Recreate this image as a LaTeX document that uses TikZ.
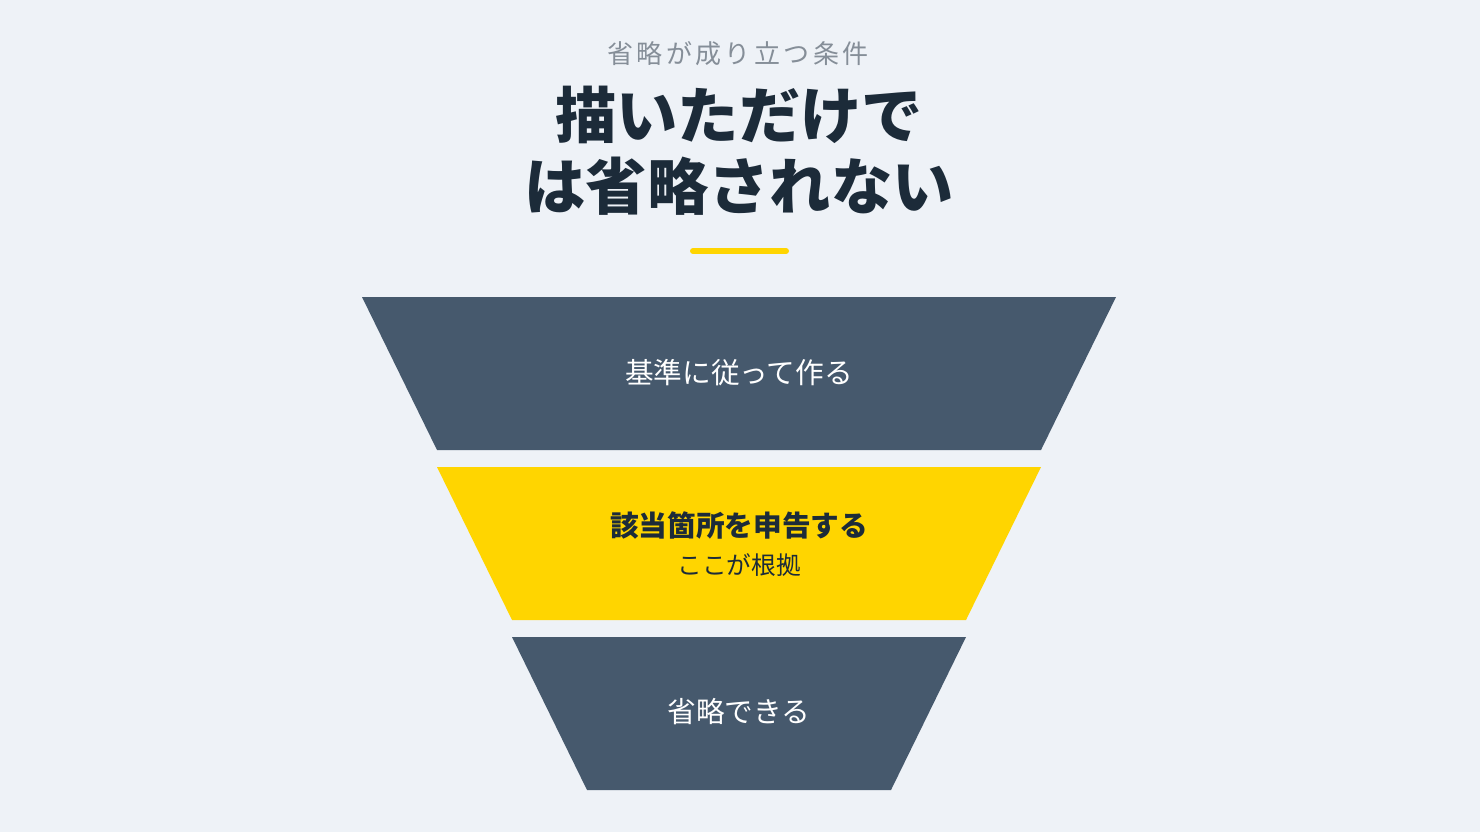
\documentclass[tikz,border=0pt]{standalone}
\usepackage{fontspec}
\newfontfamily\jpfont{Noto Sans CJK JP}
\newfontfamily\jpsubfont[LetterSpace=13]{Noto Sans CJK JP}
\definecolor{pagebg}{HTML}{EEF2F7}
\definecolor{slate}{HTML}{46596D}
\definecolor{accent}{HTML}{FFD500}
\definecolor{ink}{HTML}{1C2B39}
\definecolor{subgray}{HTML}{858E98}

\tikzset{every picture/.style={line width=0.75pt}}
\def \fCx {739}
\def \fTop {297}
\def \fHalf {377}
\def \fShift {75}
\def \fHeight {153}
\def \fStep {170}

\begin{document}
\begin{tikzpicture}[x=0.75pt,y=0.75pt,yscale=-1,xscale=1]

	%Shape: Background
	\fill [pagebg] (0,0) rectangle (1480,832);
	\useasboundingbox (0,0) rectangle (1480,832);

	%Shape: Trapezoid [top level]
	\draw [draw=none, fill=slate] (\fCx-\fHalf,\fTop) -- (\fCx+\fHalf,\fTop) -- (\fCx+\fHalf-\fShift,\fTop+\fHeight) -- (\fCx-\fHalf+\fShift,\fTop+\fHeight) -- cycle ;
	%Shape: Trapezoid [middle level]
	\draw [draw=none, fill=accent] (\fCx-\fHalf+\fShift,\fTop+\fStep) -- (\fCx+\fHalf-\fShift,\fTop+\fStep) -- (\fCx+\fHalf-\fShift*2,\fTop+\fStep+\fHeight) -- (\fCx-\fHalf+\fShift*2,\fTop+\fStep+\fHeight) -- cycle ;
	%Shape: Trapezoid [bottom level]
	\draw [draw=none, fill=slate] (\fCx-\fHalf+\fShift*2,\fTop+\fStep*2) -- (\fCx+\fHalf-\fShift*2,\fTop+\fStep*2) -- (\fCx+\fHalf-\fShift*3,\fTop+\fStep*2+\fHeight) -- (\fCx-\fHalf+\fShift*3,\fTop+\fStep*2+\fHeight) -- cycle ;

	%Shape: Line [underline]
	\draw [accent, line width=4.5pt, line cap=round] (693,251) -- (786,251) ;

	% Text Node
	\draw (\fCx-1,54) node (subtitle) [inner sep=0.75pt] [font={\jpsubfont\fontsize{19.5}{23}\selectfont}, color=subgray] {省略が成り立つ条件};
	% Text Node
	\draw (\fCx,151) node (title) [inner sep=0.75pt] [font={\jpfont\bfseries\fontsize{46}{53.25}\selectfont}, color=ink] [align=center] {描いただけで\\は省略されない};

	% Text Node
	\draw (\fCx,373) node (lvlone) [inner sep=0.75pt] [font={\jpfont\fontsize{21.5}{25}\selectfont}, color=white] {基準に従って作る};
	% Text Node
	\draw (\fCx,525) node (lvltwo) [inner sep=0.75pt] [font={\jpfont\bfseries\fontsize{21.5}{25}\selectfont}, color=ink] {該当箇所を申告する};
	% Text Node
	\draw (\fCx,565) node (lvltwonote) [inner sep=0.75pt] [font={\jpfont\fontsize{18.5}{22}\selectfont}, color=ink] {ここが根拠};
	% Text Node
	\draw (\fCx,712) node (lvlthree) [inner sep=0.75pt] [font={\jpfont\fontsize{21.5}{25}\selectfont}, color=white] {省略できる};

\end{tikzpicture}
\end{document}
